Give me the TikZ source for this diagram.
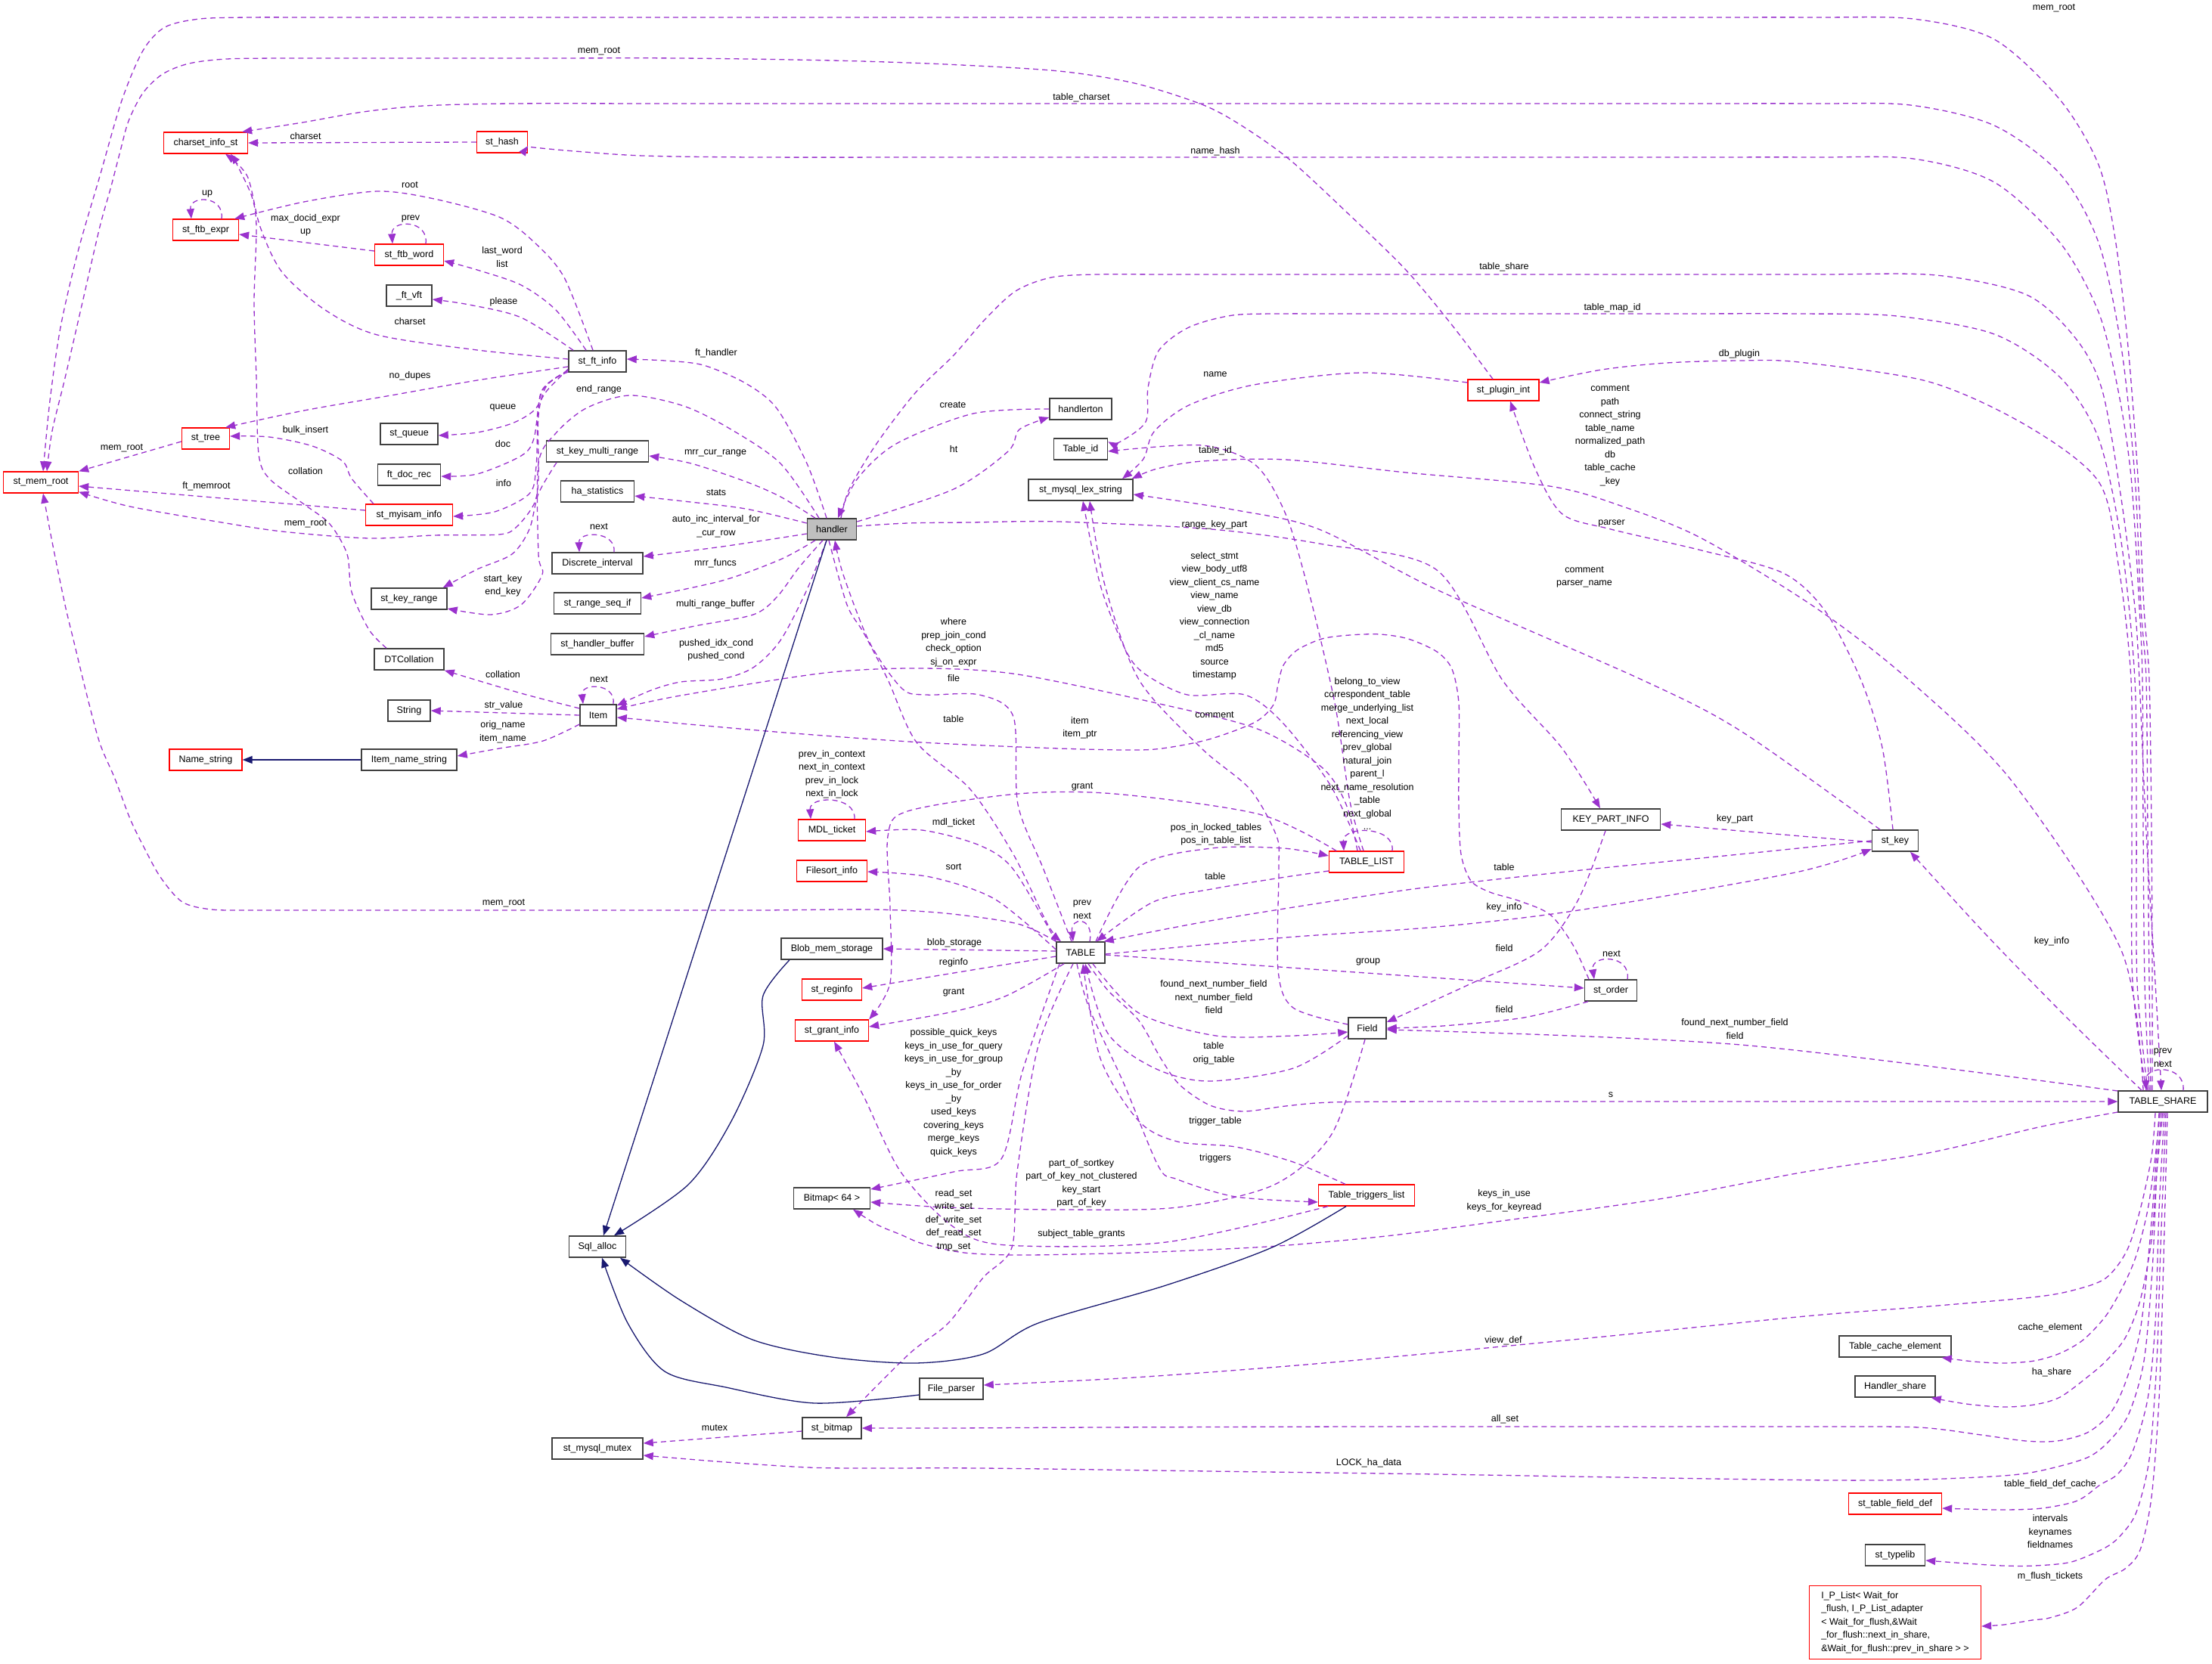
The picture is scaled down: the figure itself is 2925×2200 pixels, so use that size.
\documentclass[tikz,border=0pt]{standalone}
\usepackage{fontspec}
\setmainfont{Liberation Sans}
\usetikzlibrary{arrows.meta}
\definecolor{purp}{HTML}{9A32CD}
\definecolor{navyc}{HTML}{191970}
\definecolor{hgray}{HTML}{BFBFBF}
\definecolor{bdr}{HTML}{404040}
\newcommand\dfont{\fontsize{12.5}{17.5}\selectfont}
\tikzset{
  box/.style={draw=bdr, line width=1.5pt, fill=white, minimum height=28pt, inner xsep=4pt, inner ysep=0pt, font=\dfont},
  rbox/.style={box, draw=red, line width=1.3pt},
  bw/.style={minimum width=#1pt},
  lab/.style={font=\dfont, inner sep=0pt, align=center},
  dep/.style={draw=purp, line width=1.3pt, dash pattern=on 7pt off 5pt, -{Triangle[length=13pt,width=10pt]}},
  inh/.style={draw=navyc, line width=1.3pt, -{Triangle[length=13pt,width=10pt]}},
  sm/.style={smooth, tension=0.5}
}
\begin{document}
\begin{tikzpicture}[x=1pt,y=-1pt]
\useasboundingbox (0,0) rectangle (2925,2200);
% ---------------- nodes
\node[rbox,bw=111] (charset) at (272,189) {charset\_info\_st};
\node[rbox,bw=67] (sthash) at (664,188) {st\_hash};
\node[rbox,bw=87] (ftbexpr) at (272,304) {st\_ftb\_expr};
\node[rbox,bw=91] (ftbword) at (541,337) {st\_ftb\_word};
\node[box,bw=60] (ftvft) at (541,391) {\_ft\_vft};
\node[box,bw=76] (ftinfo) at (790,478) {st\_ft\_info};
\node[rbox,bw=63] (sttree) at (272,580) {st\_tree};
\node[rbox,bw=99] (memroot) at (54,638) {st\_mem\_root};
\node[box,bw=76] (stqueue) at (541,574) {st\_queue};
\node[box,bw=83] (ftdocrec) at (541,628) {ft\_doc\_rec};
\node[rbox,bw=115] (myisam) at (541,681) {st\_myisam\_info};
\node[box,bw=135] (kmr) at (790,597) {st\_key\_multi\_range};
\node[box,bw=97] (hastat) at (790,650) {ha\_statistics};
\node[box,bw=120] (discrete) at (790,745) {Discrete\_interval};
\node[box,bw=100] (keyrange) at (541,792) {st\_key\_range};
\node[box,bw=115] (rangeseq) at (790,798) {st\_range\_seq\_if};
\node[box,bw=123] (hbuf) at (790,852) {st\_handler\_buffer};
\node[box,bw=92] (dtcoll) at (541,872) {DTCollation};
\node[box,bw=56] (string) at (541,940) {String};
\node[box,bw=48] (item) at (791,946) {Item};
\node[rbox,bw=96] (namestr) at (272,1005) {Name\_string};
\node[box,bw=126] (itemname) at (541,1005) {Item\_name\_string};
\node[box,bw=65,fill=hgray] (handler) at (1100,700) {handler};
\node[box,bw=82] (handlerton) at (1429,541) {handlerton};
\node[box,bw=71] (tableid) at (1429,594) {Table\_id};
\node[box,bw=138] (lexstr) at (1429,648) {st\_mysql\_lex\_string};
\node[rbox,bw=94] (plugin) at (1988,516) {st\_plugin\_int};
\node[rbox,bw=89] (mdl) at (1100,1098) {MDL\_ticket};
\node[rbox,bw=93] (filesort) at (1100,1152) {Filesort\_info};
\node[rbox,bw=99] (tablelist) at (1807,1140) {TABLE\_LIST};
\node[box,bw=64] (table) at (1429,1260) {TABLE};
\node[box,bw=134] (blob) at (1100,1255) {Blob\_mem\_storage};
\node[rbox,bw=79] (reginfo) at (1100,1309) {st\_reginfo};
\node[rbox,bw=97] (grantinfo) at (1100,1363) {st\_grant\_info};
\node[box,bw=101] (bitmap) at (1100,1585) {Bitmap< 64 >};
\node[box,bw=75] (sqlalloc) at (790,1649) {Sql\_alloc};
\node[box,bw=50] (field) at (1808,1360) {Field};
\node[rbox,bw=127] (trig) at (1807,1581) {Table\_triggers\_list};
\node[box,bw=131] (keypart) at (2130,1084) {KEY\_PART\_INFO};
\node[box,bw=61] (stkey) at (2506,1112) {st\_key};
\node[box,bw=69] (storder) at (2130,1310) {st\_order};
\node[box,bw=118] (tshare) at (2860,1457) {TABLE\_SHARE};
\node[box,bw=84] (fileparser) at (1258,1837) {File\_parser};
\node[box,bw=78] (stbitmap) at (1100,1889) {st\_bitmap};
\node[box,bw=120] (mutex) at (790,1916) {st\_mysql\_mutex};
\node[box,bw=148] (tce) at (2506,1781) {Table\_cache\_element};
\node[box,bw=106] (hshare) at (2506,1834) {Handler\_share};
\node[rbox,bw=123] (tfd) at (2506,1989) {st\_table\_field\_def};
\node[box,bw=79] (typelib) at (2506,2057) {st\_typelib};
\node[rbox,minimum width=227pt,minimum height=97pt,align=left] (iplist) at (2506,2146) {I\_P\_List< Wait\_for\\\_flush, I\_P\_List\_adapter\\< Wait\_for\_flush,\&Wait\\\_for\_flush::next\_in\_share,\\\&Wait\_for\_flush::prev\_in\_share > >};

% ---------------- purple dependency edges
% top area
\draw[dep] plot[sm] coordinates {([xshift=-14pt]tshare.north) (2846,1300) (2845,1100) (2842,900) (2835,804) (2827,631) (2814,459) (2797,316) (2775,218) (2724,132) (2637,52) (2530,25) (2400,23) (2250,23) (2000,23) (1600,23) (1200,23) (800,23) (560,23) (420,23) (330,23) (264,25) (218,36) (189,67) (161,133) (132,233) (103,333) (80,433) (66,530) ([xshift=3pt]memroot.north)};
\draw[dep] plot[sm] coordinates {([xshift=-14pt]plugin.north) (1920,430) (1859,357) (1780,280) (1704,210) (1640,165) (1589,138) (1500,110) (1400,94) (1250,85) (1100,80) (900,77) (700,77) (500,77) (380,77) (300,78) (250,84) (215,98) (189,123) (170,160) (159,200) (146,250) (132,300) (109,400) (86,500) (69,570) ([xshift=8pt]memroot.north)};
\draw[dep] plot[sm] coordinates {([xshift=-16pt]tshare.north) (2842,1300) (2840,1100) (2838,900) (2831,804) (2823,631) (2805,459) (2775,321) (2724,230) (2637,166) (2526,139) (2400,137) (2200,137) (1800,137) (1300,137) (900,137) (677,137) (560,140) (480,148) (400,162) ([xshift=-8pt]charset.north east)};
\draw[dep] plot[sm] coordinates {([xshift=-18pt]tshare.north) (2836,1300) (2834,1100) (2833,900) (2829,804) (2818,631) (2801,517) (2775,413) (2724,321) (2637,241) (2530,210) (2400,208) (2200,208) (1800,208) (1300,208) (1000,208) (850,206) (760,200) (706,195) ([yshift=-5pt]sthash.east)};
\draw[dep] (sthash.west) -- (charset.east);
\draw[dep] ([xshift=21pt]ftbexpr.north) .. controls (297,258) and (250,258) .. ([xshift=-19pt]ftbexpr.north);
\draw[dep] ([yshift=5pt]ftbword.west) -- ([yshift=-6pt]ftbexpr.east);
\draw[dep] ([xshift=22pt]ftbword.north) .. controls (567,290) and (517,290) .. ([xshift=-22pt]ftbword.north);
\draw[dep] plot[sm] coordinates {([xshift=-6pt]ftinfo.north) (746,367) (706,320) (660,287) (574,263) (499,253) (402,267) ([xshift=-6pt]ftbexpr.north east)};
\draw[dep] plot[sm] coordinates {([xshift=-15pt]ftinfo.north) (735,410) (689,377) (631,357) ([yshift=-8pt]ftbword.east)};
\draw[dep] plot[sm] coordinates {([xshift=-32pt]ftinfo.north) (689,420) (620,403) ([yshift=-5pt]ftvft.east)};
\draw[dep] plot[sm] coordinates {([yshift=3pt]ftinfo.west) (631,463) (499,443) (430,410) (373,360) (344,300) (327,233) ([xshift=26pt]charset.south)};
\draw[dep] plot[sm] coordinates {([xshift=-30pt]dtcoll.north) (488,833) (465,783) (459,733) (436,693) (402,667) (356,633) (342,600) (339,500) (336,400) (339,300) (333,260) (313,217) ([xshift=33pt]charset.south)};
\draw[dep] plot[sm] coordinates {([yshift=-7pt]ftinfo.west) (631,503) (517,523) (402,543) ([xshift=-6pt]sttree.north east)};
\draw[dep] ([yshift=-4pt]sttree.west) -- (memroot.north east);
\draw[dep] plot[sm] coordinates {([xshift=-47pt]myisam.north) (465,633) (453,610) (413,590) (356,578) ([yshift=3pt]sttree.east)};
\draw[dep] ([yshift=6pt]myisam.west) -- ([yshift=-5pt]memroot.east);
\draw[dep] plot[sm] coordinates {([yshift=-12pt]ftinfo.west) (723,510) (712,550) (712,633) (706,667) (683,697) (660,707) (574,708) (488,712) (373,703) (287,690) (172,670) ([yshift=2pt]memroot.south east)};
\draw[dep] plot[sm] coordinates {([yshift=-10pt]ftinfo.west) (723,517) (706,543) (677,560) (631,572) ([yshift=-2pt]stqueue.east)};
\draw[dep] plot[sm] coordinates {([yshift=-12pt]ftinfo.west) (717,517) (706,580) (689,603) (631,627) ([yshift=-2pt]ftdocrec.east)};
\draw[dep] plot[sm] coordinates {([yshift=-14pt]ftinfo.west) (715,520) (709,617) (700,653) (654,677) ([yshift=-2pt]myisam.east)};
% handler edges
\draw[dep] plot[sm] coordinates {([xshift=-17pt]handler.north) (1032,613) (965,567) (904,537) (833,523) (775,540) (735,573) (712,613) (712,733) (717,760) (689,800) (649,813) ([yshift=-13pt]keyrange.east)};
\draw[dep] plot[sm] coordinates {([xshift=-54pt]kmr.south) (712,653) (700,700) (677,733) (631,753) ([xshift=-6pt]keyrange.north east)};
\draw[dep] plot[sm] coordinates {([xshift=-7pt]handler.north) (1067,613) (1027,540) (986,507) (930,483) (879,477) ([yshift=3pt]ftinfo.east)};
\draw[dep] plot[sm] coordinates {([xshift=-22pt]handler.north) (1032,657) (986,637) (914,613) ([yshift=-6pt]kmr.east)};
\draw[dep] plot[sm] coordinates {([yshift=8pt]handler.west) (986,673) (904,663) ([yshift=-6pt]hastat.east)};
\draw[dep] plot[sm] coordinates {([yshift=-6pt]handler.west) (955,723) ([yshift=9pt]discrete.east)};
\draw[dep] ([xshift=22pt]discrete.north) .. controls (815,702) and (765,702) .. ([xshift=-24pt]discrete.north);
\draw[dep] plot[sm] coordinates {([xshift=-22pt]handler.south) (1032,740) (955,768) ([yshift=7pt]rangeseq.east)};
\draw[dep] plot[sm] coordinates {([xshift=-12pt]handler.south) (1057,750) (1027,790) (996,813) (919,828) ([yshift=10pt]hbuf.east)};
\draw[dep] plot[sm] coordinates {([xshift=-7pt]handler.south) (1067,780) (1032,847) (996,883) (955,898) (900,902) (861,913) ([yshift=-2pt]item.north east)};
\draw[dep] plot[sm] coordinates {([xshift=-12pt]table.north) (1380,1150) (1346,1064) (1340,948) (1295,919) (1225,919) (1193,911) (1150,850) (1115,760) ([xshift=4pt]handler.south)};
\draw[dep] plot[sm] coordinates {([xshift=-4pt]handler.south) (1120,800) (1142,837) (1174,899) (1212,982) (1283,1044) (1340,1130) (1385,1222) ([xshift=-26pt]table.north)};
\draw[dep] plot[sm] coordinates {(handlerton.west) (1287,547) (1185,587) (1134,633) ([xshift=8pt]handler.north)};
\draw[dep] plot[sm] coordinates {([yshift=10pt]handler.east) (1261,647) (1333,597) (1348,568) ([yshift=-11pt]handlerton.west)};
\draw[dep] plot[sm] coordinates {([xshift=12pt]handler.north) (1123,647) (1159,587) (1210,520) (1261,470) (1302,423) (1343,385) (1390,367) (1450,363) (1550,363) (1750,363) (2100,363) (2400,363) (2560,364) (2680,390) (2745,448) (2780,517) (2805,660) (2823,804) (2829,900) (2838,1100) (2850,1300) ([xshift=-2pt]tshare.north)};
\draw[dep] plot[sm] coordinates {([yshift=4pt]handler.east) (1200,692) (1283,691) (1400,690) (1602,700) (1750,720) (1900,754) (1987,900) (2065,989) ([xshift=-14pt]keypart.north)};
\draw[dep] plot[sm] coordinates {([xshift=-20pt]tshare.north) (2826,1300) (2825,1100) (2823,900) (2805,717) (2775,580) (2724,499) (2637,442) (2508,418) (2380,415) (2200,415) (1900,415) (1750,415) (1698,415) (1630,417) (1572,433) (1532,464) (1518,513) (1515,558) (1480,585) ([yshift=-5pt]tableid.north east)};
\draw[dep] plot[sm] coordinates {([xshift=-22pt]tshare.north) (2820,1300) (2819,1100) (2818,900) (2801,746) (2775,637) (2680,563) (2551,505) (2379,479) (2300,477) (2204,480) (2118,489) ([yshift=10pt]plugin.east)};
\draw[dep] plot[sm] coordinates {([yshift=10pt]plugin.west) (1802,493) (1658,509) (1572,536) (1526,571) (1512,607) ([xshift=55pt]lexstr.north)};
\draw[dep] plot[sm] coordinates {([xshift=-4pt]tablelist.north) (1785,1060) (1765,930) (1730,780) (1700,680) (1660,615) (1589,589) ([yshift=-3pt]tableid.east)};
\draw[dep] plot[sm] coordinates {([xshift=-26pt]tshare.north) (2805,1257) (2661,1034) (2525,900) (2401,804) (2250,712) (2146,670) (2049,643) (1859,625) (1700,608) (1590,610) (1530,620) ([xshift=-2pt]lexstr.north east)};
\draw[dep] plot[sm] coordinates {([xshift=-3pt]stkey.north) (2489,989) (2461,900) (2414,809) (2358,758) (2250,728) (2130,700) (2066,680) (2030,620) ([xshift=9pt]plugin.south)};
\draw[dep] plot[sm] coordinates {([xshift=-20pt]stkey.north) (2302,967) (2173,900) (1900,780) (1744,700) (1630,674) ([yshift=-6pt]lexstr.east)};
% TABLE edges
\draw[dep] plot[sm] coordinates {(table.north west) (1340,1150) (1295,1118) (1219,1098) ([yshift=-2pt]mdl.east)};
\draw[dep] ([xshift=30pt]mdl.north) .. controls (1132,1052) and (1070,1052) .. ([xshift=-28pt]mdl.north);
\draw[dep] plot[sm] coordinates {([yshift=4pt]table.west) (1315,1189) (1230,1160) ([yshift=-1pt]filesort.east)};
\draw[dep] plot[sm] coordinates {([xshift=-40pt]tablelist.north) (1665,1077) (1474,1050) (1346,1050) (1200,1073) (1174,1106) (1177,1200) (1177,1300) (grantinfo.north east)};
\draw[dep] plot[sm] coordinates {([xshift=20pt]table.north) (1506,1147) (1602,1122) (1697,1122) ([yshift=8pt]tablelist.west)};
\draw[dep] plot[sm] coordinates {([yshift=-12pt]tablelist.west) (1700,1160) (1602,1176) (1525,1193) ([xshift=21pt]table.north)};
\draw[dep] ([xshift=12pt]table.north) .. controls (1447,1212) and (1415,1212) .. ([xshift=-10pt]table.north);
\draw[dep] plot[sm] coordinates {(stkey.west) (2300,1130) (2100,1150) (1900,1172) (1800,1186) (1600,1218) ([xshift=-2pt]table.north east)};
\draw[dep] plot[sm] coordinates {([yshift=-2pt]table.east) (1700,1240) (1900,1226) (2087,1204) (2374,1154) ([yshift=-11pt]stkey.west)};
\draw[dep] ([yshift=-3pt]table.east) -- ([yshift=3pt]storder.west);
\draw[dep] ([xshift=22pt]storder.north) .. controls (2157,1262) and (2103,1262) .. ([xshift=-22pt]storder.north);
\draw[dep] plot[sm] coordinates {([xshift=-30pt]storder.south) (2015,1346) (1908,1357) (field.east)};
\draw[dep] plot[sm] coordinates {([xshift=-7pt]keypart.south) (2087,1190) (2037,1257) (1943,1302) ([yshift=8pt]field.east)};
\draw[dep] ([yshift=-2pt]stkey.west) -- ([yshift=-6pt]keypart.east);
\draw[dep] plot[sm] coordinates {([yshift=14pt]tshare.west) (2302,1382) ([yshift=-2pt]field.east)};
\draw[dep] plot[sm] coordinates {([xshift=10pt]table.south) (1465,1310) (1506,1350) (1535,1400) (1560,1435) (1600,1462) (1644,1470) (1700,1463) (1761,1458) (1900,1457) (2100,1457) (2400,1457) (2650,1457) (tshare.west)};
\draw[dep] plot[sm] coordinates {([yshift=-10pt]field.west) (1710,1413) (1598,1430) (1527,1413) (1465,1367) ([xshift=6pt]table.south)};
\draw[dep] plot[sm] coordinates {([xshift=16pt]table.south) (1506,1340) (1608,1370) (1710,1370) ([yshift=-5pt]field.west)};
\draw[dep] plot[sm] coordinates {([xshift=-28pt]trig.north) (1710,1537) (1634,1517) (1557,1510) (1506,1483) (1455,1400) ([xshift=3pt]table.south)};
\draw[dep] plot[sm] coordinates {([xshift=-5pt]table.south) (1440,1333) (1486,1433) (1532,1543) (1557,1560) (1634,1583) ([yshift=-9pt]trig.west)};
\draw[dep] plot[sm] coordinates {([xshift=-3pt]field.south) (1761,1500) (1685,1567) (1557,1597) (1404,1600) (1251,1597) ([yshift=-5pt]bitmap.east)};
\draw[dep] plot[sm] coordinates {([xshift=-28pt]table.south) (1352,1417) (1324,1533) (1261,1550) ([yshift=12pt]bitmap.east)};
\draw[dep] plot[sm] coordinates {([xshift=-10pt]table.south) (1373,1383) (1345,1550) (1338,1650) (1300,1690) (1254,1750) (1202,1791) ([xshift=19pt]stbitmap.north)};
\draw[dep] plot[sm] coordinates {([yshift=-14pt]tshare.west) (2700,1490) (2550,1525) (2387,1550) (2200,1585) (2000,1613) (1850,1633) (1750,1643) (1659,1650) (1500,1657) (1353,1660) (1275,1657) (1220,1645) (1191,1633) (1160,1620) ([xshift=28pt]bitmap.south)};
\draw[dep] plot[sm] coordinates {([xshift=-51pt]trig.south) (1542,1643) (1331,1647) (1261,1623) (1191,1550) (1142,1450) ([xshift=3pt]grantinfo.south)};
\draw[dep] plot[sm] coordinates {([xshift=-5pt]tshare.south) (2850,1550) (2842,1650) (2830,1760) (2810,1830) (2790,1870) (2760,1895) (2720,1906) (2679,1906) (2620,1898) (2537,1888) (2400,1887) (2150,1887) (1800,1887) (1450,1888) (1250,1889) (stbitmap.east)};
\draw[dep] plot[sm] coordinates {([xshift=-2pt]tshare.south) (2852,1550) (2846,1680) (2835,1800) (2815,1870) (2790,1905) (2760,1928) (2700,1945) (2649,1952) (2540,1957) (2424,1958) (2200,1955) (1900,1950) (1600,1946) (1300,1942) (1150,1942) (1069,1941) (960,1934) ([yshift=-9pt]mutex.east)};
\draw[dep] ([yshift=-4pt]stbitmap.west) -- ([yshift=7pt]mutex.east);
\draw[dep] plot[sm] coordinates {([xshift=-10pt]tshare.south) (2845,1530) (2830,1600) (2812,1655) (2784,1691) (2740,1707) (2687,1716) (2550,1728) (2387,1741) (2100,1770) (1750,1803) (1500,1822) ([yshift=5pt]fileparser.east)};
\draw[dep] plot[sm] coordinates {([xshift=-4pt]tshare.south) (2850,1530) (2840,1600) (2825,1660) (2808,1700) (2785,1740) (2755,1772) (2724,1790) (2690,1800) (2649,1803) (2610,1801) ([xshift=-13pt]tce.south east)};
\draw[dep] plot[sm] coordinates {(tshare.south) (2852,1550) (2845,1640) (2830,1720) (2810,1770) (2785,1800) (2762,1820) (2724,1848) (2690,1858) (2649,1861) (2600,1857) ([xshift=-6pt]hshare.south east)};
\draw[dep] plot[sm] coordinates {([xshift=2pt]tshare.south) (2855,1600) (2850,1750) (2840,1850) (2820,1920) (2800,1950) (2777,1964) (2747,1985) (2700,1995) (2649,1997) (2600,1996) ([yshift=-6pt]tfd.east)};
\draw[dep] plot[sm] coordinates {([xshift=4pt]tshare.south) (2857,1650) (2852,1800) (2842,1930) (2825,2000) (2805,2030) (2784,2047) (2739,2066) (2690,2071) (2649,2071) (2600,2068) ([yshift=-7pt]typelib.east)};
\draw[dep] plot[sm] coordinates {([xshift=6pt]tshare.south) (2860,1700) (2855,1850) (2845,1980) (2830,2050) (2810,2075) (2784,2089) (2747,2126) (2710,2140) (2687,2143) (2650,2149) ([yshift=-5pt]iplist.east)};
\draw[dep] plot[sm] coordinates {([xshift=-28pt]tshare.north) (2733,1346) (2625,1235) ([xshift=20pt]stkey.south)};
\draw[dep] ([xshift=27pt]tshare.north) .. controls (2890,1408) and (2836,1408) .. ([xshift=-22pt]tshare.north);
\draw[dep] plot[sm] coordinates {(table.north west) (1346,1222) (1250,1208) (1155,1203) (1000,1204) (800,1204) (600,1204) (450,1204) (340,1204) (280,1203) (241,1193) (212,1160) (190,1120) (172,1083) (152,1030) (132,983) (115,920) (98,850) (86,800) (69,717) ([xshift=3pt]memroot.south)};
% Item edges
\draw[dep] ([xshift=20pt]item.north) .. controls (815,903) and (768,903) .. ([xshift=-20pt]item.north);
\draw[dep] plot[sm] coordinates {([yshift=9pt]item.west) (689,917) (dtcoll.south east)};
\draw[dep] (item.west) -- (string.east);
\draw[dep] plot[sm] coordinates {([yshift=-12pt]item.west) (718,980) (660,990) ([yshift=5pt]itemname.east)};
\draw[dep] plot[sm] coordinates {([xshift=-12pt]tablelist.north) (1780,1064) (1748,1015) (1665,965) (1538,932) (1346,892) (1219,884) (1091,890) (900,920) ([yshift=8pt]item.east)};
\draw[dep] plot[sm] coordinates {([xshift=-29pt]storder.north) (2080,1250) (2050,1210) (2010,1192) (1970,1180) (1945,1165) (1932,1130) (1929,1070) (1929,1000) (1929,930) (1920,885) (1900,862) (1862,845) (1825,839) (1785,840) (1748,845) (1715,860) (1697,880) (1690,905) (1684,932) (1660,955) (1602,977) (1550,988) (1506,992) (1400,990) (1219,982) (1050,970) (900,957) (850,952) ([yshift=-3pt]item.east)};
\draw[dep] plot[sm] coordinates {([xshift=-8pt]tablelist.north) (1760,1040) (1697,957) (1646,919) (1570,919) (1512,890) (1487,857) (1455,774) ([xshift=3pt]lexstr.south)};
\draw[dep] plot[sm] coordinates {([yshift=5pt]field.west) (1710,1333) (1690,1283) (1691,1147) (1688,1106) (1653,1044) (1589,990) (1506,899) (1461,774) ([xshift=12pt]lexstr.south)};
\draw[dep] ([xshift=34pt]tablelist.north) .. controls (1845,1092) and (1775,1092) .. ([xshift=-30pt]tablelist.north);
\draw[dep] ([yshift=2pt]table.west) -- (blob.east);
\draw[dep] plot[sm] coordinates {([yshift=-5pt]table.west) (1261,1287) ([yshift=2pt]reginfo.east)};
\draw[dep] plot[sm] coordinates {([xshift=-22pt]table.south) (1331,1317) (1261,1338) ([yshift=5pt]grantinfo.east)};

% ---------------- inheritance edges
\draw[inh] ([xshift=-7pt]handler.south) -- ([xshift=8pt]sqlalloc.north);
\draw[inh] plot[sm] coordinates {([xshift=-56pt]blob.south) (1009,1317) (1009,1383) (967,1483) (910,1567) ([xshift=22pt]sqlalloc.north)};
\draw[inh] plot[sm] coordinates {([xshift=-27pt]trig.south) (1682,1650) (1542,1700) (1373,1750) (1300,1791) (1210,1803) (1100,1795) (995,1772) (900,1720) ([xshift=30pt]sqlalloc.south)};
\draw[inh] plot[sm] coordinates {([yshift=-8pt]fileparser.west) (1078,1856) (960,1835) (879,1814) (830,1750) ([xshift=6pt]sqlalloc.south)};
\draw[inh] (itemname.west) -- (namestr.east);

% ---------------- labels
\node[lab] (l01) at (2716,11) {mem\_root};
\node[lab] (l02) at (792,68) {mem\_root};
\node[lab] (l03) at (1430,129) {table\_charset};
\node[lab] (l04) at (1607,200) {name\_hash};
\node[lab] (l05) at (404,180) {charset};
\node[lab] (l06) at (274,256) {up};
\node[lab] (l07) at (404,298) {max\_docid\_expr\\up};
\node[lab] (l08) at (543,289) {prev};
\node[lab] (l09) at (542,245) {root};
\node[lab] (l10) at (664,340) {last\_word\\list};
\node[lab] (l11) at (666,399) {please};
\node[lab] (l12) at (542,425) {charset};
\node[lab] (l13) at (542,497) {no\_dupes};
\node[lab] (l14) at (161,593) {mem\_root};
\node[lab] (l15) at (404,569) {bulk\_insert};
\node[lab] (l16) at (665,539) {queue};
\node[lab] (l17) at (792,515) {end\_range};
\node[lab] (l18) at (665,587) {doc};
\node[lab] (l19) at (404,623) {collation};
\node[lab] (l20) at (273,643) {ft\_memroot};
\node[lab] (l21) at (666,639) {info};
\node[lab] (l22) at (404,693) {mem\_root};
\node[lab] (l23) at (792,697) {next};
\node[lab] (l24) at (665,775) {start\_key\\end\_key};
\node[lab] (l25) at (947,467) {ft\_handler};
\node[lab] (l26) at (1260,536) {create};
\node[lab] (l27) at (1261,594) {ht};
\node[lab] (l28) at (946,599) {mrr\_cur\_range};
\node[lab] (l29) at (947,652) {stats};
\node[lab] (l30) at (947,696) {auto\_inc\_interval\_for\\\_cur\_row};
\node[lab] (l31) at (946,745) {mrr\_funcs};
\node[lab] (l32) at (946,799) {multi\_range\_buffer};
\node[lab] (l33) at (947,860) {pushed\_idx\_cond\\pushed\_cond};
\node[lab] (l34) at (665,892) {collation};
\node[lab] (l35) at (792,899) {next};
\node[lab] (l36) at (666,933) {str\_value};
\node[lab] (l37) at (665,968) {orig\_name\\item\_name};
\node[lab] (l38) at (666,1195) {mem\_root};
\node[lab] (l39) at (1989,353) {table\_share};
\node[lab] (l40) at (2132,407) {table\_map\_id};
\node[lab] (l41) at (2300,468) {db\_plugin};
\node[lab] (l42) at (1607,495) {name};
\node[lab] (l43) at (2129,576) {comment\\path\\connect\_string\\table\_name\\normalized\_path\\db\\table\_cache\\\_key};
\node[lab] (l44) at (1607,596) {table\_id};
\node[lab] (l45) at (2131,692) {parser};
\node[lab] (l46) at (1606,694) {range\_key\_part};
\node[lab] (l47) at (2095,763) {comment\\parser\_name};
\node[lab] (l48) at (1606,815) {select\_stmt\\view\_body\_utf8\\view\_client\_cs\_name\\view\_name\\view\_db\\view\_connection\\\_cl\_name\\md5\\source\\timestamp};
\node[lab] (l49) at (1261,850) {where\\prep\_join\_cond\\check\_option\\sj\_on\_expr};
\node[lab] (l50) at (1261,897) {file};
\node[lab] (l51) at (1261,951) {table};
\node[lab] (l52) at (1606,946) {comment};
\node[lab] (l53) at (1428,963) {item\\item\_ptr};
\node[lab] (l54) at (1808,997) {belong\_to\_view\\correspondent\_table\\merge\_underlying\_list\\next\_local\\referencing\_view\\prev\_global\\natural\_join\\parent\_l\\next\_name\_resolution\\\_table\\next\_global\\...};
\node[lab] (l55) at (1100,1024) {prev\_in\_context\\next\_in\_context\\prev\_in\_lock\\next\_in\_lock};
\node[lab] (l56) at (1431,1041) {grant};
\node[lab] (l57) at (1261,1088) {mdl\_ticket};
\node[lab] (l58) at (1608,1104) {pos\_in\_locked\_tables\\pos\_in\_table\_list};
\node[lab] (l59) at (1261,1147) {sort};
\node[lab] (l60) at (1607,1159) {table};
\node[lab] (l61) at (1431,1203) {prev\\next};
\node[lab] (l62) at (1262,1247) {blob\_storage};
\node[lab] (l63) at (1261,1273) {reginfo};
\node[lab] (l64) at (1809,1272) {group};
\node[lab] (l65) at (1261,1313) {grant};
\node[lab] (l66) at (1605,1319) {found\_next\_number\_field\\next\_number\_field\\field};
\node[lab] (l67) at (1605,1393) {table\\orig\_table};
\node[lab] (l68) at (1261,1445) {possible\_quick\_keys\\keys\_in\_use\_for\_query\\keys\_in\_use\_for\_group\\\_by\\keys\_in\_use\_for\_order\\\_by\\used\_keys\\covering\_keys\\merge\_keys\\quick\_keys};
\node[lab] (l69) at (1607,1483) {trigger\_table};
\node[lab] (l70) at (1607,1532) {triggers};
\node[lab] (l71) at (1430,1565) {part\_of\_sortkey\\part\_of\_key\_not\_clustered\\key\_start\\part\_of\_key};
\node[lab] (l72) at (1261,1614) {read\_set\\write\_set\\def\_write\_set\\def\_read\_set\\tmp\_set};
\node[lab] (l73) at (1430,1632) {subject\_table\_grants};
\node[lab] (l74) at (2294,1083) {key\_part};
\node[lab] (l75) at (1989,1147) {table};
\node[lab] (l76) at (1989,1200) {key\_info};
\node[lab] (l77) at (1989,1254) {field};
\node[lab] (l78) at (2131,1262) {next};
\node[lab] (l79) at (1989,1335) {field};
\node[lab] (l80) at (2294,1361) {found\_next\_number\_field\\field};
\node[lab] (l81) at (2130,1448) {s};
\node[lab] (l82) at (2713,1245) {key\_info};
\node[lab] (l83) at (2860,1399) {prev\\next};
\node[lab] (l84) at (1989,1588) {keys\_in\_use\\keys\_for\_keyread};
\node[lab] (l85) at (1988,1773) {view\_def};
\node[lab] (l86) at (2711,1756) {cache\_element};
\node[lab] (l87) at (2713,1815) {ha\_share};
\node[lab] (l88) at (1990,1877) {all\_set};
\node[lab] (l89) at (1810,1935) {LOCK\_ha\_data};
\node[lab] (l90) at (945,1888) {mutex};
\node[lab] (l91) at (2711,1963) {table\_field\_def\_cache};
\node[lab] (l92) at (2711,2026) {intervals\\keynames\\fieldnames};
\node[lab] (l93) at (2711,2085) {m\_flush\_tickets};
\end{tikzpicture}
\end{document}
